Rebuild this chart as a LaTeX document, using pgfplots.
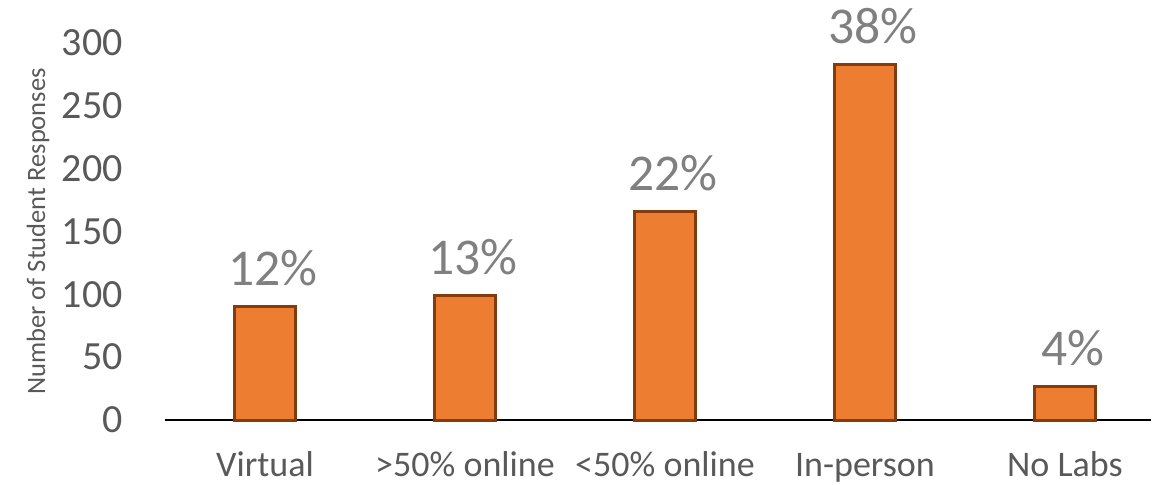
\documentclass[border=0pt]{standalone}
\usepackage{pgfplots}
\pgfplotsset{compat=1.18}
\usepackage{fontspec}
\setmainfont{Carlito}
\definecolor{barfill}{HTML}{ED7D31}
\definecolor{baredge}{HTML}{843C0C}
\definecolor{ticktext}{HTML}{595959}
\definecolor{pcttext}{HTML}{808080}
\begin{document}
\begin{tikzpicture}
\begin{axis}[
  name=ax,
  x=100pt, y=0.6285pt,
  xmin=-0.5, xmax=4.43, ymin=0, ymax=300,
  clip=false,
  axis x line*=bottom, axis y line*=left,
  x axis line style={-, draw=black, line width=0.8pt},
  y axis line style={draw=none},
  major tick length=0pt,
  xtick={0,1,2,3,4},
  xticklabels={Virtual, >50\% online, <50\% online, In-person, No Labs},
  ytick={0,50,...,300},
  /pgf/number format/assume math mode=true,
  xticklabel style={font=\fontsize{18}{20}\selectfont, text=ticktext, anchor=base, inner sep=0pt, yshift=-28pt},
  yticklabel style={font=\fontsize{20}{22}\selectfont, text=ticktext, anchor=east, inner sep=0pt, xshift=-21pt},
  ylabel={Number of Student Responses},
  every axis y label/.style={at={(axis description cs:-0.1288,0.5)}, rotate=90, anchor=center, font=\fontsize{13.25}{15}\selectfont, text=ticktext},
]
\addplot[ybar, bar width=30.5pt, fill=barfill, draw=baredge, line width=1.5pt,
  point meta=explicit symbolic, nodes near coords={\pgfplotspointmeta},
  every node near coord/.append style={font=\fontsize{25.8}{28}\selectfont, text=pcttext, anchor=base, inner sep=0pt, yshift=10.5pt, xshift=4pt}]
coordinates {(0,90) [12\%] (1,99) [13\%] (2,166) [22\%] (3,283) [38\%] (4,27) [4\%]};
\end{axis}
\pgfresetboundingbox
\path (ax.south west) ++(-82.5pt,-32pt) rectangle ++(576.5pt,242pt);
\end{tikzpicture}
\end{document}
